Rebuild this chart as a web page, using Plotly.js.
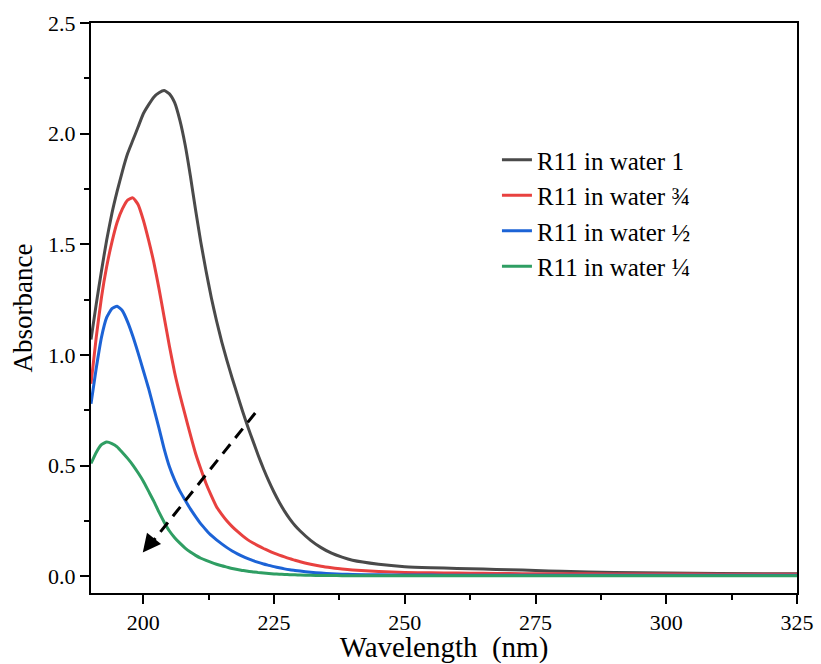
<!DOCTYPE html>
<html>
<head>
<meta charset="utf-8">
<script src="https://cdn.plot.ly/plotly-3.0.1.min.js"></script>
<style>html,body{margin:0;padding:0;background:#fff;}#chart{width:821px;height:664px;}</style>
</head>
<body>
<div id="chart"></div>
<script>
const wavelength = [190,191,192,193,194,195,196,197,198,199,200,
  201,202,203,204,205,206,207,208,209,210,
  211,212,213,214,215,216,217,218,219,220,
  221,222,223,224,225,226,227,228,229,230,
  232,234,236,238,240,245,250,255,260,265,270,275,280,290,300,310,325];

const seriesNames = ["R11 in water 1", "R11 in water \u00be", "R11 in water \u00bd", "R11 in water \u00bc"];

const absWater1 = [1.07,1.23,1.38,1.52,1.64,1.74,1.83,1.91,1.97,2.03,2.09,
  2.13,2.165,2.185,2.195,2.18,2.14,2.06,1.95,1.81,1.655,
  1.51,1.38,1.26,1.155,1.06,0.975,0.895,0.82,0.745,0.675,
  0.61,0.545,0.485,0.43,0.38,0.335,0.295,0.26,0.23,0.205,
  0.163,0.13,0.105,0.087,0.073,0.055,0.044,0.039,0.036,0.033,0.030,0.027,0.023,0.018,0.015,0.013,0.012];

const absWater34 = [0.87,1.08,1.26,1.40,1.51,1.60,1.66,1.70,1.71,1.68,1.61,
  1.52,1.42,1.30,1.17,1.04,0.92,0.82,0.73,0.64,0.555,
  0.485,0.42,0.365,0.315,0.28,0.25,0.225,0.203,0.183,0.165,
  0.151,0.138,0.126,0.115,0.105,0.096,0.088,0.080,0.073,0.066,
  0.055,0.046,0.039,0.033,0.029,0.022,0.018,0.016,0.015,0.014,0.013,0.012,0.012,0.011,0.011,0.010,0.010];

const absWater12 = [0.78,0.94,1.08,1.17,1.21,1.22,1.20,1.15,1.085,1.01,0.93,
  0.85,0.76,0.67,0.575,0.495,0.435,0.385,0.345,0.305,0.27,
  0.237,0.21,0.185,0.165,0.147,0.13,0.115,0.102,0.09,0.08,
  0.071,0.063,0.056,0.05,0.044,0.039,0.034,0.030,0.027,0.024,
  0.019,0.015,0.012,0.010,0.009,0.007,0.006,0.006,0.005,0.005,0.005,0.005,0.005,0.005,0.005,0.005,0.005];

const absWater14 = [0.51,0.56,0.595,0.607,0.60,0.585,0.56,0.533,0.503,0.468,0.43,
  0.385,0.34,0.29,0.245,0.205,0.175,0.15,0.128,0.11,0.095,
  0.082,0.072,0.063,0.055,0.048,0.042,0.036,0.031,0.027,0.023,
  0.020,0.017,0.015,0.013,0.011,0.010,0.009,0.008,0.007,0.006,
  0.005,0.004,0.004,0.003,0.003,0.003,0.003,0.003,0.003,0.003,0.003,0.003,0.003,0.003,0.003,0.003,0.003];

const colors = ["#4a4a4a", "#e8413f", "#1c63d6", "#2f9e63"];
const allSeries = [absWater1, absWater34, absWater12, absWater14];

const traces = allSeries.map((ys, i) => ({
  type: "scatter",
  mode: "lines",
  x: wavelength,
  y: ys,
  name: seriesNames[i],
  line: {color: colors[i], width: 3, shape: "spline", smoothing: 0.5}
}));

const font = "Liberation Serif";

const layout = {
  width: 821,
  height: 664,
  margin: {l: 91, r: 24, t: 23, b: 71},
  paper_bgcolor: "#fff",
  plot_bgcolor: "#fff",
  font: {family: font, color: "#000"},
  showlegend: true,
  legend: {
    x: 0.575, y: 0.8, xanchor: "left", yanchor: "top",
    font: {family: font, size: 25, color: "#000"},
    bgcolor: "rgba(0,0,0,0)", tracegroupgap: 0
  },
  xaxis: {
    range: [190, 325],
    tickvals: [200, 225, 250, 275, 300, 325],
    ticks: "outside", ticklen: 9, tickwidth: 2, tickcolor: "#000",
    minor: {dtick: 12.5, tick0: 200, ticks: "outside", ticklen: 5, tickwidth: 2, tickcolor: "#000"},
    showline: true, linewidth: 2, linecolor: "#000", mirror: true,
    showgrid: false, zeroline: false,
    tickfont: {family: font, size: 22, color: "#000"},
    title: {text: "Wavelength\u00a0\u00a0(nm)", font: {family: font, size: 29, color: "#000"}, standoff: 16}
  },
  yaxis: {
    range: [-0.075, 2.5],
    tickvals: [0, 0.5, 1, 1.5, 2, 2.5],
    ticktext: ["0.0", "0.5", "1.0", "1.5", "2.0", "2.5"],
    ticks: "outside", ticklen: 9, tickwidth: 2, tickcolor: "#000",
    minor: {dtick: 0.25, tick0: 0, ticks: "outside", ticklen: 5, tickwidth: 2, tickcolor: "#000"},
    showline: true, linewidth: 2, linecolor: "#000", mirror: true,
    showgrid: false, zeroline: false,
    tickfont: {family: font, size: 22, color: "#000"},
    title: {text: "Absorbance", font: {family: font, size: 27, color: "#000"}, standoff: 8}
  },
  shapes: [{
    type: "line", xref: "x", yref: "y",
    x0: 221.4, y0: 0.738, x1: 201.2, y1: 0.14,
    line: {color: "#000", width: 3, dash: "12px,8px"}
  }],
  annotations: [{
    xref: "x", yref: "y", x: 199.9, y: 0.108,
    axref: "pixel", ayref: "pixel", ax: 10, ay: -12.5,
    showarrow: true, arrowhead: 2, arrowsize: 1.2, arrowwidth: 3, arrowcolor: "#000",
    text: ""
  }]
};

Plotly.newPlot("chart", traces, layout, {displayModeBar: false, staticPlot: true});
</script>
</body>
</html>
